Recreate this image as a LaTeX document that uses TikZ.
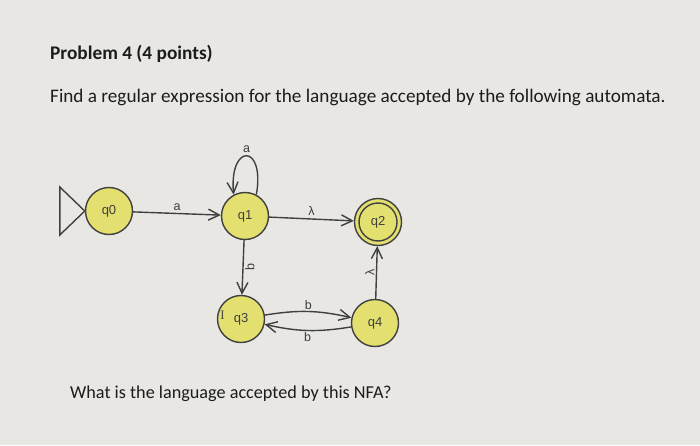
\documentclass[tikz,border=0pt]{standalone}
\usepackage{fontspec}
\setmainfont{Carlito}
\newfontfamily\jflap{Liberation Sans}
\newfontfamily\serifI{Liberation Serif}
\usetikzlibrary{arrows.meta}
\definecolor{bg}{HTML}{E8E7E4}
\definecolor{stfill}{HTML}{E4E070}
\definecolor{edgecol}{HTML}{404040}
\definecolor{txt}{HTML}{1C1C1C}
\tikzset{
  state/.style={circle, draw=edgecol, line width=1.4pt, fill=stfill, minimum size=47pt,
    inner sep=0pt, font=\jflap\fontsize{13}{15}\selectfont, text=txt!85},
  edge/.style={draw=edgecol, line width=1.4pt, -{Straight Barb[length=11pt,width=11pt]}},
  lbl/.style={font=\jflap\fontsize{12.5}{14}\selectfont, text=txt!85, inner sep=1.5pt},
  para/.style={font=\fontsize{19.2}{22}\selectfont, text=txt, anchor=base west, inner sep=0pt}
}
\begin{document}
\begin{tikzpicture}[x=1pt,y=1pt]
\fill[bg] (0,0) rectangle (700,445);
\useasboundingbox (0,0) rectangle (700,445);

\node[para, font=\bfseries\fontsize{19.3}{22}\selectfont] (title) at (50,385) {Problem 4 (4 points)};
\node[para] (task) at (50,342) {Find a regular expression for the language accepted by the following automata.};
\node[para, font=\fontsize{18.2}{21}\selectfont] (question) at (70,47) {What is the language accepted by this NFA?};

\node[state] (q0) at (109,234) {q0};
\node[state] (q1) at (245,229) {q1};
\node[state] (q2) at (378,223) {q2};
\node[state] (q3) at (241,126) {q3};
\node[state] (q4) at (375,122) {q4};
\draw[edgecol, line width=1.4pt] (q2.center) circle (19pt);

\node[font=\serifI\fontsize{13}{13}\selectfont, text=txt!80, inner sep=0pt] (cursor) at (222.5,130) {I};

\draw[edgecol, line width=1.4pt, line join=miter] (q0.west) -- ++(-25,24) -- ++(0,-48) -- cycle;

\draw[edge] (q0) -- node[lbl, above=1pt] {a} (q1);
\draw[edge] (q1) -- node[lbl, above=1pt] {λ} (q2);
\draw[edge] (q1) -- node[lbl, rotate=90, anchor=north, pos=0.5] {b} (q3);
\draw[edge] (q4) -- node[lbl, rotate=90, anchor=south, pos=0.5] {λ} (q2);
\draw[edge] (q3) to[bend left=11] node[lbl, above] {b} (q4);
\draw[edge] (q4) to[bend left=11] node[lbl, below] {b} (q3);
\draw[edge] (q1.62) .. controls +(80:52) and +(95:52) .. node[lbl, pos=0.5, above=1pt] {a} (q1.118);
\end{tikzpicture}
\end{document}
